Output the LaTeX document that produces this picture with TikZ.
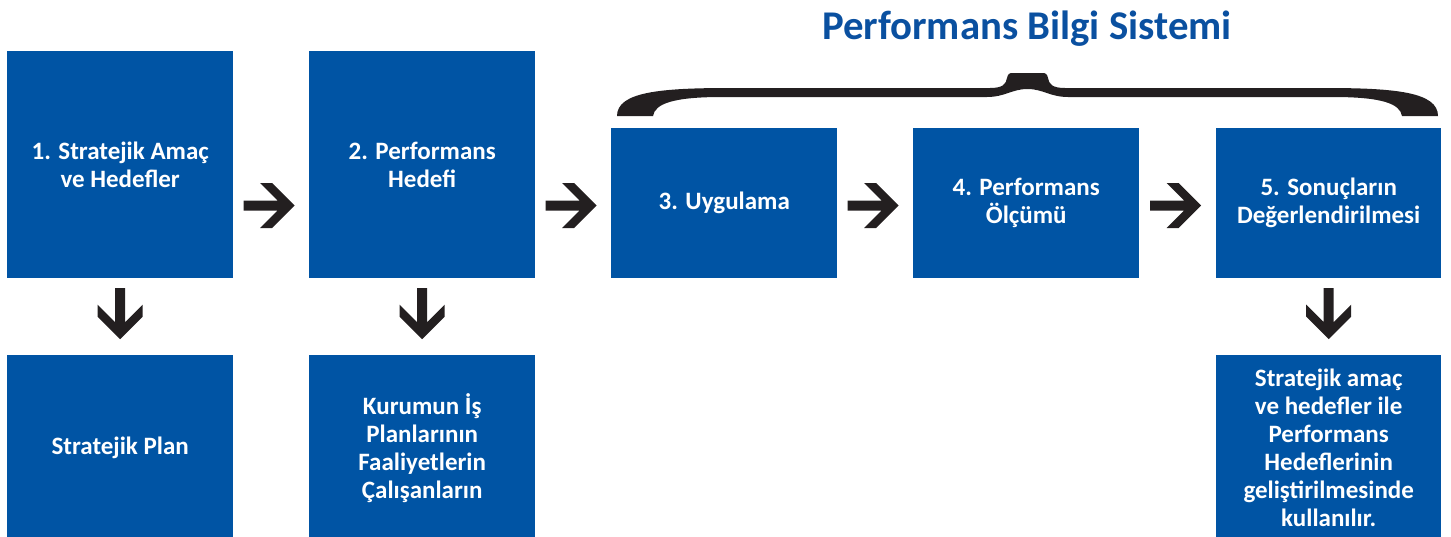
\documentclass[tikz,border=0pt]{standalone}
\usepackage{fontspec}
\setmainfont{Carlito}
\usetikzlibrary{calc}
\definecolor{boxblue}{RGB}{0,84,164}
\definecolor{titleblue}{RGB}{10,80,160}
\definecolor{inkdark}{RGB}{35,31,32}
\tikzset{
  stepbox/.style={rectangle, fill=boxblue, draw=none, inner sep=0pt, anchor=north west,
    minimum width=226pt, text=white, align=center,
    font=\fontsize{25}{28}\selectfont\bfseries},
  tallbox/.style={stepbox, minimum height=227pt},
  midbox/.style={stepbox, minimum height=150pt},
  lowbox/.style={stepbox, minimum height=185pt},
  rarr/.pic={\fill[inkdark] (25.5,0) -- (3,-22.5) -- (-9,-22.5) -- (8.5,-5) -- (-25.5,-5) -- (-25.5,5) -- (8.5,5) -- (-9,22.5) -- (3,22.5) -- cycle;},
  darr/.pic={\fill[inkdark] (0,25.5) -- (-22.5,3) -- (-22.5,-9) -- (-5,8.5) -- (-5,-25.5) -- (5,-25.5) -- (5,8.5) -- (22.5,-9) -- (22.5,3) -- cycle;}
}
\begin{document}
\begin{tikzpicture}[x=1pt,y=-1pt]
\useasboundingbox (0,0) rectangle (1451,536);
% title
\node[anchor=base, text=titleblue, inner sep=0pt, font=\fontsize{40.8}{48}\selectfont\bfseries] (title) at (1027,39.5) {Performans Bilgi Sistemi};
% brace
\fill[inkdark] (1027.5,89) .. controls (1012,89) and (1005,97) .. (987,97)
  -- (722,97) .. controls (672,97) and (655,104) .. (653,116)
  -- (617,116) .. controls (617,92) and (660,88) .. (730,88)
  -- (990,88) .. controls (1003,88) and (1006,84) .. (1007,78)
  .. controls (1008,74) and (1009,73) .. (1013,73)
  -- (1042,73) .. controls (1046,73) and (1047,74) .. (1048,78)
  .. controls (1049,84) and (1052,88) .. (1065,88)
  -- (1325,88) .. controls (1395,88) and (1438,92) .. (1438,116)
  -- (1402,116) .. controls (1400,104) and (1383,97) .. (1333,97)
  -- (1068,97) .. controls (1050,97) and (1043,89) .. (1027.5,89) -- cycle;
% boxes
\node[tallbox] (b1) at (7,51) {1. Stratejik Amaç\\ve Hedefler};
\node[tallbox] (b2) at (309,51) {2. Performans\\Hedefi};
\node[midbox] (b3) at (611,128) {3. Uygulama};
\node[midbox] (b4) at (913,128) {4. Performans\\Ölçümü};
\node[midbox, minimum width=225pt] (b5) at (1216,128) {5. Sonuçların\\Değerlendirilmesi};
\node[lowbox] (c1) at (7,355) {Stratejik Plan};
\node[lowbox] (c2) at (309,355) {Kurumun İş\\Planlarının\\Faaliyetlerin\\Çalışanların};
\node[lowbox, minimum width=225pt] (c5) at (1216,355) {Stratejik amaç\\ve hedefler ile\\Performans\\Hedeflerinin\\geliştirilmesinde\\kullanılır.};
% arrows
\coordinate (arow) at (0,205.5);
\path let \p1=($(b1.east)!0.5!(b2.west)$), \p2=(arow) in pic at (\x1-2pt,\y2) {rarr};
\path let \p1=($(b2.east)!0.5!(b3.west)$), \p2=(arow) in pic at (\x1-2pt,\y2) {rarr};
\path let \p1=($(b3.east)!0.5!(b4.west)$), \p2=(arow) in pic at (\x1-2pt,\y2) {rarr};
\path let \p1=($(b4.east)!0.5!(b5.west)$), \p2=(arow) in pic at (\x1-2pt,\y2) {rarr};
\pic at ($(b1.south)!0.5!(c1.north) + (0,-3)$) {darr};
\pic at ($(b2.south)!0.5!(c2.north) + (0,-3)$) {darr};
\pic at ($(b5.south)!0.5!(c5.north) + (0,-3)$) {darr};
\end{tikzpicture}
\end{document}
